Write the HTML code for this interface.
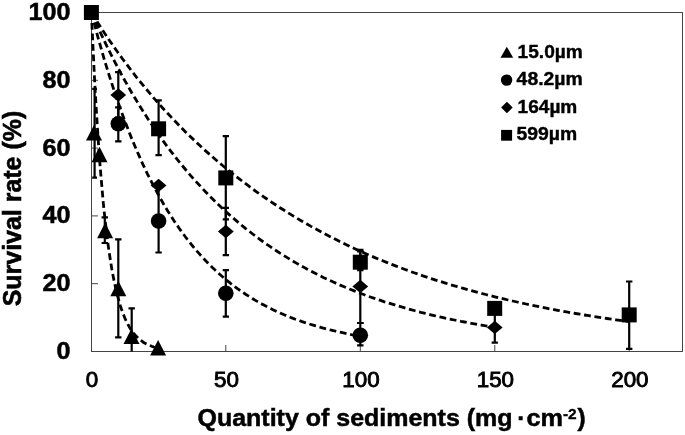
<!DOCTYPE html>
<html><head><meta charset="utf-8"><title>Survival rate vs quantity of sediments</title>
<style>
html,body{margin:0;padding:0;background:#fff;}
body{width:685px;height:435px;overflow:hidden;}
svg{display:block;}
text{font-family:"Liberation Sans",sans-serif;fill:#000;}
.b{font-weight:bold;}
</style></head><body>
<svg width="685" height="435" viewBox="0 0 685 435">
<rect x="0" y="0" width="685" height="435" fill="#fff"/>

<g stroke="#454545" stroke-width="1" fill="none">
<rect x="91.5" y="12.5" width="591" height="339"/>
<line x1="91.5" x2="98" y1="283.7" y2="283.7"/>
<line x1="91.5" x2="98" y1="215.9" y2="215.9"/>
<line x1="91.5" x2="98" y1="148.1" y2="148.1"/>
<line x1="91.5" x2="98" y1="80.3" y2="80.3"/>
<line y1="351.5" y2="345" x1="225.8" x2="225.8"/>
<line y1="351.5" y2="345" x1="360.3" x2="360.3"/>
<line y1="351.5" y2="345" x1="494.8" x2="494.8"/>
<line y1="351.5" y2="345" x1="629.2" x2="629.2"/>
</g>
<g stroke="#000" stroke-width="2.8" fill="none" stroke-dasharray="6.8 3.7">
<polyline points="91.4,12.5 92.5,36.8 93.6,59.4 94.6,80.3 95.7,99.8 96.8,117.8 97.9,134.6 98.9,150.1 100.0,164.6 101.1,178.0 102.2,190.4 103.2,202.0 104.3,212.7 105.4,222.6 106.5,231.9 107.5,240.4 108.6,248.4 109.7,255.8 110.8,262.7 111.8,269.0 112.9,274.9 114.0,280.4 115.1,285.5 116.1,290.3 117.2,294.7 118.3,298.7 119.4,302.5 120.4,306.0 121.5,309.3 122.6,312.3 123.7,315.1 124.7,317.7 125.8,320.2 126.9,322.4 128.0,324.5 129.0,326.4 130.1,328.2 131.2,329.9 132.3,331.4 133.3,332.9 134.4,334.2 135.5,335.5 136.6,336.6 137.7,337.7 138.7,338.7 139.8,339.6 140.9,340.4 142.0,341.2 143.0,342.0 144.1,342.7 145.2,343.3 146.3,343.9 147.3,344.4 148.4,344.9 149.5,345.4 150.6,345.8 151.6,346.2 152.7,346.6 153.8,347.0 154.9,347.3 155.9,347.6"/>
<polyline points="91.4,12.5 93.6,21.1 95.9,29.6 98.1,37.8 100.4,45.8 102.6,53.6 104.8,61.2 107.1,68.6 109.3,75.8 111.6,82.8 113.8,89.7 116.0,96.4 118.3,102.9 120.5,109.2 122.8,115.4 125.0,121.4 127.3,127.3 129.5,133.0 131.7,138.6 134.0,144.0 136.2,149.3 138.5,154.4 140.7,159.5 142.9,164.4 145.2,169.1 147.4,173.8 149.7,178.3 151.9,182.7 154.1,187.0 156.4,191.2 158.6,195.3 160.9,199.3 163.1,203.2 165.3,207.0 167.6,210.7 169.8,214.2 172.1,217.7 174.3,221.2 176.6,224.5 178.8,227.7 181.0,230.9 183.3,234.0 185.5,237.0 187.8,239.9 190.0,242.7 192.2,245.5 194.5,248.2 196.7,250.8 199.0,253.4 201.2,255.9 203.4,258.3 205.7,260.7 207.9,263.0 210.2,265.3 212.4,267.5 214.6,269.6 216.9,271.7 219.1,273.7 221.4,275.7 223.6,277.7 225.8,279.5 228.1,281.4 230.3,283.2 232.6,284.9 234.8,286.6 237.1,288.3 239.3,289.9 241.5,291.5 243.8,293.0 246.0,294.5 248.3,295.9 250.5,297.3 252.7,298.7 255.0,300.1 257.2,301.4 259.5,302.7 261.7,303.9 263.9,305.1 266.2,306.3 268.4,307.5 270.7,308.6 272.9,309.7 275.1,310.7 277.4,311.8 279.6,312.8 281.9,313.8 284.1,314.7 286.4,315.7 288.6,316.6 290.8,317.5 293.1,318.4 295.3,319.2 297.6,320.0 299.8,320.8 302.0,321.6 304.3,322.4 306.5,323.1 308.8,323.8 311.0,324.5 313.2,325.2 315.5,325.9 317.7,326.6 320.0,327.2 322.2,327.8 324.4,328.4 326.7,329.0 328.9,329.6 331.2,330.1 333.4,330.7 335.7,331.2 337.9,331.7 340.1,332.2 342.4,332.7 344.6,333.2 346.9,333.7 349.1,334.1 351.3,334.6 353.6,335.0 355.8,335.4 358.1,335.8 360.3,336.2"/>
<polyline points="91.4,12.5 94.8,20.2 98.1,27.6 101.5,34.9 104.8,41.9 108.2,48.8 111.6,55.6 114.9,62.1 118.3,68.5 121.7,74.8 125.0,80.9 128.4,86.8 131.7,92.7 135.1,98.3 138.5,103.9 141.8,109.3 145.2,114.6 148.5,119.8 151.9,124.8 155.3,129.7 158.6,134.6 162.0,139.3 165.3,143.9 168.7,148.4 172.1,152.8 175.4,157.1 178.8,161.4 182.2,165.5 185.5,169.5 188.9,173.5 192.2,177.3 195.6,181.1 199.0,184.8 202.3,188.4 205.7,191.9 209.0,195.4 212.4,198.8 215.8,202.1 219.1,205.3 222.5,208.5 225.8,211.6 229.2,214.6 232.6,217.5 235.9,220.4 239.3,223.3 242.7,226.1 246.0,228.8 249.4,231.4 252.7,234.0 256.1,236.6 259.5,239.1 262.8,241.5 266.2,243.9 269.5,246.2 272.9,248.5 276.3,250.7 279.6,252.9 283.0,255.0 286.4,257.1 289.7,259.2 293.1,261.2 296.4,263.1 299.8,265.1 303.2,266.9 306.5,268.8 309.9,270.6 313.2,272.3 316.6,274.0 320.0,275.7 323.3,277.4 326.7,279.0 330.0,280.5 333.4,282.1 336.8,283.6 340.1,285.1 343.5,286.5 346.9,287.9 350.2,289.3 353.6,290.6 356.9,292.0 360.3,293.3 363.7,294.5 367.0,295.8 370.4,297.0 373.7,298.1 377.1,299.3 380.5,300.4 383.8,301.6 387.2,302.6 390.6,303.7 393.9,304.7 397.3,305.8 400.6,306.7 404.0,307.7 407.4,308.7 410.7,309.6 414.1,310.5 417.4,311.4 420.8,312.3 424.2,313.1 427.5,314.0 430.9,314.8 434.2,315.6 437.6,316.4 441.0,317.1 444.3,317.9 447.7,318.6 451.1,319.3 454.4,320.0 457.8,320.7 461.1,321.4 464.5,322.0 467.9,322.7 471.2,323.3 474.6,323.9 477.9,324.5 481.3,325.1 484.7,325.7 488.0,326.2 491.4,326.8 494.8,327.3"/>
<polyline points="91.4,12.5 95.9,19.7 100.4,26.7 104.8,33.6 109.3,40.2 113.8,46.7 118.3,53.0 122.8,59.2 127.3,65.2 131.7,71.0 136.2,76.8 140.7,82.3 145.2,87.8 149.7,93.1 154.1,98.4 158.6,103.5 163.1,108.5 167.6,113.3 172.1,118.1 176.6,122.8 181.0,127.4 185.5,131.9 190.0,136.2 194.5,140.5 199.0,144.7 203.4,148.9 207.9,152.9 212.4,156.8 216.9,160.7 221.4,164.5 225.8,168.2 230.3,171.9 234.8,175.4 239.3,178.9 243.8,182.4 248.3,185.7 252.7,189.0 257.2,192.3 261.7,195.4 266.2,198.5 270.7,201.6 275.1,204.5 279.6,207.5 284.1,210.3 288.6,213.1 293.1,215.9 297.6,218.6 302.0,221.2 306.5,223.8 311.0,226.4 315.5,228.8 320.0,231.3 324.4,233.7 328.9,236.0 333.4,238.3 337.9,240.6 342.4,242.8 346.9,245.0 351.3,247.1 355.8,249.2 360.3,251.2 364.8,253.2 369.3,255.2 373.7,257.1 378.2,259.0 382.7,260.8 387.2,262.6 391.7,264.4 396.2,266.1 400.6,267.8 405.1,269.5 409.6,271.1 414.1,272.8 418.6,274.3 423.0,275.9 427.5,277.4 432.0,278.9 436.5,280.3 441.0,281.7 445.5,283.1 449.9,284.5 454.4,285.8 458.9,287.1 463.4,288.4 467.9,289.7 472.3,290.9 476.8,292.1 481.3,293.3 485.8,294.5 490.3,295.6 494.8,296.8 499.2,297.9 503.7,298.9 508.2,300.0 512.7,301.0 517.2,302.0 521.6,303.0 526.1,304.0 530.6,304.9 535.1,305.9 539.6,306.8 544.0,307.7 548.5,308.6 553.0,309.4 557.5,310.3 562.0,311.1 566.5,311.9 570.9,312.7 575.4,313.5 579.9,314.2 584.4,315.0 588.9,315.7 593.3,316.4 597.8,317.1 602.3,317.8 606.8,318.5 611.3,319.1 615.8,319.8 620.2,320.4 624.7,321.1 629.2,321.7"/>
</g>
<g stroke="#000" stroke-width="2.2" fill="none">
<path d="M94.6 88.8V177.6M92.2 88.8H97.0M92.2 177.6H97.0"/>
<path d="M104.8 217.3V243.0M101.6 217.3H108.0M101.6 243.0H108.0"/>
<path d="M118.3 239.3V337.3M115.1 239.3H121.5M115.1 337.3H121.5"/>
<path d="M131.7 308.4V351.5M128.5 308.4H134.9"/>
<path d="M118.3 107.4V141.3M115.1 107.4H121.5M115.1 141.3H121.5"/>
<path d="M158.6 185.4V252.5M155.4 185.4H161.8M155.4 252.5H161.8"/>
<path d="M225.8 270.1V316.6M222.7 270.1H229.0M222.7 316.6H229.0"/>
<path d="M360.3 323.0V345.4M357.1 323.0H363.5M357.1 345.4H363.5"/>
<path d="M118.3 72.2V117.6M115.1 72.2H121.5M115.1 117.6H121.5"/>
<path d="M225.8 207.8V255.2M222.7 207.8H229.0M222.7 255.2H229.0"/>
<path d="M360.3 249.8V323.0M357.1 249.8H363.5M357.1 323.0H363.5"/>
<path d="M494.8 309.1V342.7M491.6 309.1H497.9M491.6 342.7H497.9"/>
<path d="M158.6 100.3V155.2M155.4 100.3H161.8M155.4 155.2H161.8"/>
<path d="M225.8 136.2V219.3M222.7 136.2H229.0M222.7 219.3H229.0"/>
<path d="M360.3 251.5V270.1M357.1 251.5H363.5M357.1 270.1H363.5"/>
<path d="M629.2 281.5V348.8M626.0 281.5H632.4M626.0 348.8H632.4"/>
</g>
<g fill="#000" stroke="none">
<polygon points="94.0,125.1 102.0,140.6 86.0,140.6"/>
<polygon points="99.5,146.8 107.5,162.3 91.5,162.3"/>
<polygon points="105.1,222.7 113.1,238.2 97.1,238.2"/>
<polygon points="118.3,280.7 126.3,296.2 110.3,296.2"/>
<polygon points="131.5,328.5 139.5,344.0 123.5,344.0"/>
<polygon points="158.1,340.0 166.1,355.5 150.1,355.5"/>
<circle cx="118.3" cy="123.7" r="7.8"/>
<circle cx="158.6" cy="221.0" r="7.8"/>
<circle cx="225.8" cy="293.2" r="7.8"/>
<circle cx="360.3" cy="335.2" r="7.8"/>
<polygon points="118.3,88.3 126.2,95.0 118.3,101.7 110.4,95.0"/>
<polygon points="158.6,178.7 166.5,185.4 158.6,192.1 150.7,185.4"/>
<polygon points="225.8,224.8 233.8,231.5 225.8,238.2 217.9,231.5"/>
<polygon points="360.3,279.7 368.2,286.4 360.3,293.1 352.4,286.4"/>
<polygon points="494.8,320.7 502.6,327.4 494.8,334.1 486.9,327.4"/>
<rect x="83.9" y="5.0" width="15.0" height="15.0"/>
<rect x="151.1" y="121.3" width="15.0" height="15.0"/>
<rect x="218.3" y="170.4" width="15.0" height="15.0"/>
<rect x="352.8" y="254.7" width="15.0" height="15.0"/>
<rect x="487.2" y="300.9" width="15.0" height="15.0"/>
<rect x="621.7" y="307.4" width="15.0" height="15.0"/>
</g>
<g class="b" font-size="23.2" text-anchor="end" stroke="#000" stroke-width="0.5" transform="translate(70.6 0) scale(1.085 1) translate(-70.6 0)">
<text x="70.6" y="359.0">0</text>
<text x="70.6" y="291.2">20</text>
<text x="70.6" y="223.4">40</text>
<text x="70.6" y="155.6">60</text>
<text x="70.6" y="87.8">80</text>
<text x="70.6" y="20.0">100</text>
</g>
<g font-size="22.4" text-anchor="middle" stroke="#000" stroke-width="0.9">
<text x="92.1" y="387">0</text>
<text x="226.5" y="387">50</text>
<text x="361.0" y="387">100</text>
<text x="495.4" y="387">150</text>
<text x="629.9" y="387">200</text>
</g>
<g class="b" font-size="24.5" stroke="#000" stroke-width="0.5">
<text x="197.5" y="426.3" textLength="315" lengthAdjust="spacingAndGlyphs">Quantity of sediments (mg</text>
<text x="521.3" y="426.3" text-anchor="middle">·</text>
<text x="526.5" y="426.3" textLength="36.6" lengthAdjust="spacingAndGlyphs">cm</text>
<text x="562.9" y="419.3" font-size="15.5" stroke-width="0.3">-2</text>
<text x="577.6" y="426.3">)</text>
</g>
<text class="b" font-size="25" stroke="#000" stroke-width="0.6" transform="translate(21.2 306.3) rotate(-90)" textLength="195.5" lengthAdjust="spacingAndGlyphs">Survival rate (%)</text>
<g fill="#000">
<polygon points="506.8,46.8 513.2,57.8 500.5,57.8"/>
<circle cx="506.6" cy="80.1" r="5.7"/>
<polygon points="506.9,101.7 512.7,107.5 506.9,113.3 501.1,107.5"/>
<rect x="501.1" y="129.9" width="11" height="10.8"/>
</g>
<g class="b" font-size="18.8" stroke="#000" stroke-width="0.4">
<text x="517.6" y="57.5" textLength="65.2" lengthAdjust="spacingAndGlyphs">15.0µm</text>
<text x="516.6" y="85.4" textLength="66.2" lengthAdjust="spacingAndGlyphs">48.2µm</text>
<text x="517.6" y="113.0" textLength="59.7" lengthAdjust="spacingAndGlyphs">164µm</text>
<text x="516.6" y="140.3" textLength="60.6" lengthAdjust="spacingAndGlyphs">599µm</text>
</g>
</svg></body></html>
